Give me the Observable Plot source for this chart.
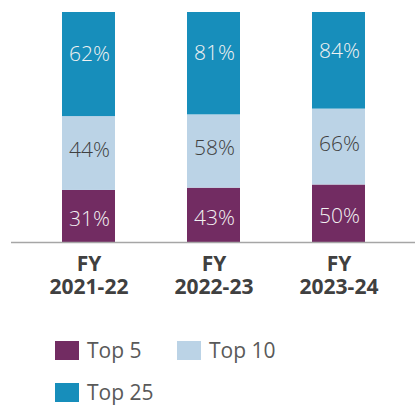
<!DOCTYPE html>
<html>
<head>
<meta charset="utf-8">
<script src="https://cdn.jsdelivr.net/npm/d3@7"></script>
<script src="https://cdn.jsdelivr.net/npm/@observablehq/plot@0.6"></script>
<style>
  html, body { margin: 0; padding: 0; background: #fff; overflow: hidden; }
  body { width: 415px; height: 405px; font-family: "Open Sans", sans-serif; }
  #chart svg { display: block; }
  .legend { display: flex; flex-wrap: wrap; width: 250px; padding-left: 55px; padding-top: 9px; }
  .item { width: 122px; height: 42px; display: flex; align-items: center; }
  .sw { width: 24px; height: 19px; margin-right: 8px; flex: none; }
  .lab { font-size: 21px; color: #595959; font-weight: 400; }
</style>
</head>
<body>
<div id="chart"></div>
<div class="legend" id="legend"></div>
<script>
const years = ["FY 2021-22", "FY 2022-23", "FY 2023-24"];
const series = ["Top 5", "Top 10", "Top 25"];
const top5 = [31, 43, 50];
const top10 = [44, 58, 66];
const top25 = [62, 81, 84];
const colors = ["#722C62", "#BBD3E6", "#178EBB"];
const labelColors = ["#F2F2F2", "#404040", "#F2F2F2"];
const labelShift = [3, -3, -10];

const valuesBySeries = [top5, top10, top25];
// derived table: normalized stacked extents per year
const rows = [];
years.forEach((yr, i) => {
  const total = d3.sum(valuesBySeries, v => v[i]);
  let acc = 0;
  series.forEach((s, j) => {
    const v = valuesBySeries[j][i];
    rows.push({year: yr, series: s, value: v, y1: acc / total, y2: (acc + v) / total});
    acc += v;
  });
});

const marks = [
  Plot.barY(rows, {x: "year", y1: "y1", y2: "y2", fill: "series"}),
  Plot.ruleY([0], {stroke: "#A6A6A6", strokeWidth: 1.5}),
  Plot.axisX({
    label: null,
    tickSize: 0, tickPadding: 12, fontSize: 21, fontWeight: "bold", color: "#404040",
    lineHeight: 1.1, tickFormat: d => d.replace(" ", "\n")
  })
];
series.forEach((s, j) => {
  marks.push(Plot.text(rows.filter(r => r.series === s), {
    x: "year", y: r => (r.y1 + r.y2) / 2, text: r => r.value + "%",
    textAnchor: "end", dx: 21, dy: labelShift[j],
    fill: labelColors[j], fontSize: 21, fontWeight: 300
  }));
});

const chart = Plot.plot({
  width: 415, height: 320,
  marginLeft: 11, marginRight: 0, marginTop: 12, marginBottom: 78,
  style: {fontFamily: "'Open Sans', sans-serif", background: "#fff"},
  x: {domain: years, paddingInner: 0.578, paddingOuter: 0.399, axis: null, label: null},
  y: {domain: [0, 1], axis: null},
  color: {domain: series, range: colors},
  marks
});
document.getElementById("chart").appendChild(chart);

const legend = document.getElementById("legend");
series.forEach((s, j) => {
  const it = document.createElement("div");
  it.className = "item";
  it.innerHTML = `<span class="sw" style="background:${colors[j]}"></span><span class="lab">${s}</span>`;
  legend.appendChild(it);
});
</script>
</body>
</html>
